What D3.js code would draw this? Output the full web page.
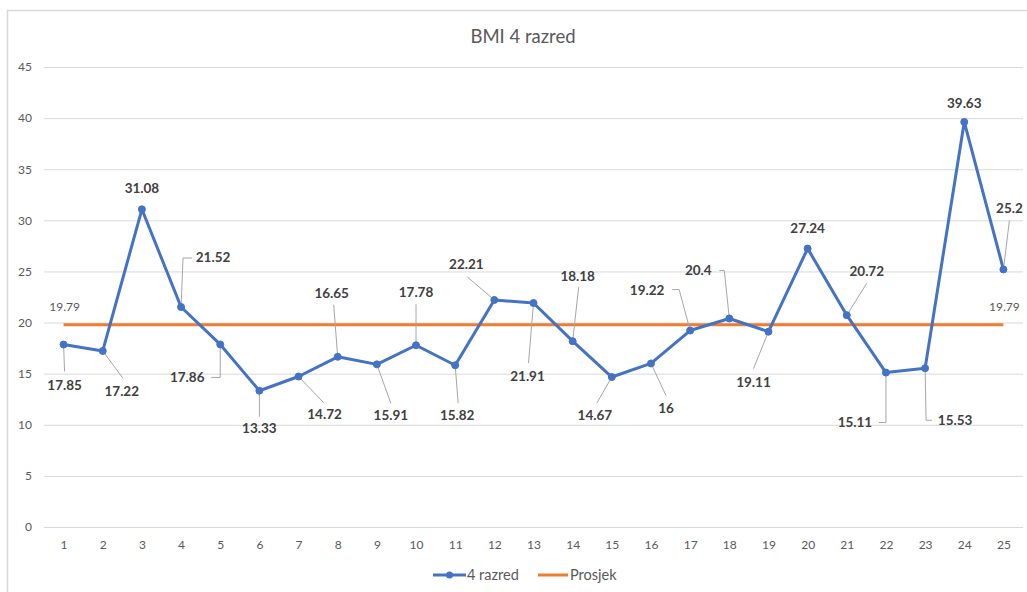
<!DOCTYPE html>
<html>
<head>
	<script src="https://cdn.jsdelivr.net/npm/d3@7"></script>
	<style>
		body { margin: 0; background: white; }
		text { font-family: Lato, "Open Sans", sans-serif; }
	</style>
</head>
<body>
	<script>
		// chart data
		var categories = ["1","2","3","4","5","6","7","8","9","10","11","12","13","14","15","16","17","18","19","20","21","22","23","24","25"];
		var bmiValues = [17.85, 17.22, 31.08, 21.52, 17.86, 13.33, 14.72, 16.65, 15.91, 17.78, 15.82, 22.21, 21.91, 18.18, 14.67, 16, 19.22, 20.4, 19.11, 27.24, 20.72, 15.11, 15.53, 39.63, 25.2];
		var average = 19.79;
		var yTicks = [0, 5, 10, 15, 20, 25, 30, 35, 40, 45];
		var seriesNames = ["4 razred", "Prosjek"];

		// label offsets (dx, dy of label centre) and leader lines, relative to the point
		var labelLayout = [
			{dx: 1, dy: 41, lead: [[0,0],[1,27]]},
			{dx: 19, dy: 40, lead: [[0,0],[20,27]]},
			{dx: 0, dy: -21, lead: null},
			{dx: 32, dy: -50, lead: [[0,0],[2,-49],[11,-49]]},
			{dx: -33, dy: 33, lead: [[0,0],[0,33],[-9,33]]},
			{dx: 0, dy: 38, lead: [[0,0],[0,26]]},
			{dx: 26, dy: 38, lead: [[0,0],[25,26]]},
			{dx: -6, dy: -64, lead: [[0,0],[-4,-52]]},
			{dx: 14, dy: 51, lead: [[0,0],[14,39]]},
			{dx: 0, dy: -53, lead: [[0,0],[0,-41]]},
			{dx: 2, dy: 50, lead: [[0,0],[3,38]]},
			{dx: -28, dy: -36, lead: [[0,0],[-27,-23]]},
			{dx: -6, dy: 73, lead: [[0,0],[-5,60]]},
			{dx: 5, dy: -65, lead: [[0,0],[6,-54]]},
			{dx: -17, dy: 38, lead: [[0,0],[-15,26]]},
			{dx: 15, dy: 45, lead: [[0,0],[15,32]]},
			{dx: -43, dy: -40, lead: [[0,0],[-11,-41],[-18,-41]]},
			{dx: -31, dy: -48, lead: [[0,0],[-5,-48],[-10,-48]]},
			{dx: -15, dy: 51, lead: [[0,0],[-15,37]]},
			{dx: 0, dy: -20, lead: null},
			{dx: 20, dy: -44, lead: [[0,0],[20,-32]]},
			{dx: -31, dy: 50, lead: [[0,0],[0,50],[-7,50]]},
			{dx: 30, dy: 52, lead: [[0,0],[1,52],[7,52]]},
			{dx: 0, dy: -19, lead: null},
			{dx: 6, dy: -61, lead: [[0,0],[6,-49]]}
		];

		var width = 1027, height = 592;
		var blue = "#4472c4", orange = "#ed7d31";
		var gridColor = "#d9d9d9", textColor = "#595959", labelColor = "#404040";

		var svg = d3.select("body").append("svg")
			.attr("width", width)
			.attr("height", height);

		// chart frame (only left and top edges are in view)
		svg.append("path")
			.attr("d", "M7.5," + height + "V10.5H" + width)
			.attr("fill", "none")
			.attr("stroke", gridColor)
			.attr("stroke-width", 1.5);

		var x = d3.scalePoint().domain(categories).range([44, 1023]).padding(0.5);
		var y = d3.scaleLinear().domain([0, 45]).range([527, 67]);

		svg.append("text")
			.attr("x", 523)
			.attr("y", 37)
			.attr("dy", "0.35em")
			.attr("text-anchor", "middle")
			.style("font-size", "18.5px")
			.style("fill", textColor)
			.text("BMI 4 razred");

		// gridlines + y axis
		var yAxis = svg.append("g")
			.attr("transform", "translate(44,0)")
			.call(d3.axisLeft(y).tickValues(yTicks).tickSize(-979).tickPadding(12));
		yAxis.select(".domain").remove();
		yAxis.selectAll("line").attr("stroke", gridColor);
		yAxis.selectAll("text").style("font-size", "12px").style("fill", textColor)
			.style("font-family", "Lato, sans-serif");

		var xAxis = svg.append("g")
			.attr("transform", "translate(0,527)")
			.call(d3.axisBottom(x).tickSize(0).tickPadding(13));
		xAxis.select(".domain").remove();
		xAxis.selectAll("text").style("font-size", "12px").style("fill", textColor)
			.style("font-family", "Lato, sans-serif");

		// average line
		svg.append("line")
			.attr("x1", x(categories[0]))
			.attr("x2", x(categories[categories.length - 1]))
			.attr("y1", y(average))
			.attr("y2", y(average))
			.attr("stroke", orange)
			.attr("stroke-width", 3);

		// series line
		var line = d3.line()
			.x(function(d, i) { return x(categories[i]); })
			.y(function(d) { return y(d); });

		svg.append("path")
			.datum(bmiValues)
			.attr("d", line)
			.attr("fill", "none")
			.attr("stroke", blue)
			.attr("stroke-width", 3)
			.attr("stroke-linejoin", "round");

		// leader lines
		bmiValues.forEach(function(v, i) {
			var lay = labelLayout[i];
			if (!lay.lead) return;
			var px = x(categories[i]), py = y(v);
			svg.append("polyline")
				.attr("points", lay.lead.map(function(p) { return (px + p[0]) + "," + (py + p[1]); }).join(" "))
				.attr("fill", "none")
				.attr("stroke", "#a6a6a6")
				.attr("stroke-width", 1);
		});

		svg.selectAll("circle.pt")
			.data(bmiValues)
			.enter().append("circle")
			.attr("class", "pt")
			.attr("cx", function(d, i) { return x(categories[i]); })
			.attr("cy", function(d) { return y(d); })
			.attr("r", 3.5)
			.attr("fill", blue)
			.attr("stroke", blue);

		svg.selectAll("text.lbl")
			.data(bmiValues)
			.enter().append("text")
			.attr("class", "lbl")
			.attr("x", function(d, i) { return x(categories[i]) + labelLayout[i].dx; })
			.attr("y", function(d, i) { return y(d) + labelLayout[i].dy; })
			.attr("dy", "0.35em")
			.attr("text-anchor", "middle")
			.style("font-size", "13.5px")
			.style("font-weight", "bold")
			.style("fill", labelColor)
			.text(function(d) { return d; });

		// average labels at both ends
		[categories[0], categories[categories.length - 1]].forEach(function(c) {
			svg.append("text")
				.attr("x", x(c) + 1)
				.attr("y", y(average) - 18)
				.attr("dy", "0.35em")
				.attr("text-anchor", "middle")
				.style("font-size", "12px")
				.style("fill", textColor)
				.text(average);
		});

		// legend
		var legend = svg.append("g").attr("transform", "translate(0,575)");
		legend.append("line").attr("x1", 433).attr("x2", 466).attr("y1", 0).attr("y2", 0)
			.attr("stroke", blue).attr("stroke-width", 3);
		legend.append("circle").attr("cx", 449.5).attr("cy", 0).attr("r", 3.5).attr("fill", blue);
		legend.append("text").attr("x", 467).attr("y", 0).attr("dy", "0.35em")
			.style("font-size", "14.5px").style("fill", textColor).text(seriesNames[0]);
		legend.append("line").attr("x1", 538).attr("x2", 568).attr("y1", 0).attr("y2", 0)
			.attr("stroke", orange).attr("stroke-width", 3);
		legend.append("text").attr("x", 570).attr("y", 0).attr("dy", "0.35em")
			.style("font-size", "14.5px").style("fill", textColor).text(seriesNames[1]);
	</script>
</body>
</html>
